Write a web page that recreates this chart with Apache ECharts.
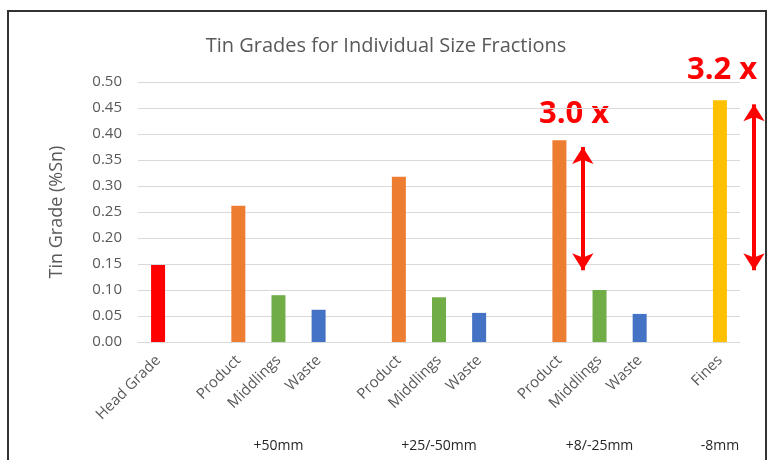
<!DOCTYPE html>
<html>
<head>
<meta charset="utf-8">
<script src="https://cdn.jsdelivr.net/npm/echarts@6/dist/echarts.min.js"></script>
<style>
    html, body { margin: 0; padding: 0; background: #fff; }
    #frame {
        position: absolute; left: 7px; top: 10px; width: 760px; height: 460px;
        border: 2px solid #333; border-bottom: none; box-sizing: border-box;
    }
    #chart { position: absolute; left: 0; top: 0; width: 772px; height: 460px; }
</style>
</head>
<body>
<div id="frame"></div>
<div id="chart"></div>
<script>
/* categories (blank slots are the gaps between size fractions) */
var categories = ['Head Grade', '', 'Product', 'Middlings', 'Waste', '',
    'Product', 'Middlings', 'Waste', '', 'Product', 'Middlings', 'Waste', '', 'Fines'];
var groupLabels = ['', '', '', '+50mm', '', '', '', '+25/-50mm', '', '', '', '+8/-25mm', '', '', '-8mm'];
var grades = [0.148, null, 0.262, 0.090, 0.062, null,
    0.318, 0.086, 0.056, null, 0.388, 0.100, 0.054, null, 0.465];
var barColors = ['#ff0000', null, '#ed7d31', '#70ad47', '#4472c4', null,
    '#ed7d31', '#70ad47', '#4472c4', null, '#ed7d31', '#70ad47', '#4472c4', null, '#ffc000'];
var yTicks = { min: 0, max: 0.5, interval: 0.05 };
// arrows: [slot position, from grade, to grade]
var arrows = [[10.62, 0.138, 0.375], [14.9, 0.138, 0.457]];

var font = '"Open Sans", Lato, sans-serif';

function gradeChart(domId) {
    var chartInstance = echarts.init(document.getElementById(domId));

    var barData = grades.map(function (v, i) {
        return { value: v, itemStyle: { color: barColors[i] } };
    });

    var arrowLines = arrows.map(function (a) {
        return [{ coord: [a[0], a[1]] }, { coord: [a[0], a[2]] }];
    });

    var option = {
        backgroundColor: 'transparent',
        animation: false,
        title: {
            text: 'Tin Grades for Individual Size Fractions',
            left: 'center',
            top: 31,
            textStyle: { color: '#595959', fontSize: 20, fontWeight: 'normal', fontFamily: font }
        },
        grid: [
            { left: 138, right: 32, top: 82, bottom: 118 },
            // same band, reaching the right edge, for the arrow past the last bar
            { left: 138, right: 0, top: 82, bottom: 118 }
        ],
        xAxis: [
            {
                type: 'category',
                data: categories,
                axisLine: { lineStyle: { color: '#d9d9d9' } },
                axisTick: { show: false },
                axisLabel: {
                    interval: 0, rotate: 45, color: '#595959', fontSize: 15,
                    fontFamily: font, margin: 16
                }
            },
            {
                type: 'category',
                data: groupLabels,
                position: 'bottom',
                offset: 89,
                axisLine: { show: false },
                axisTick: { show: false },
                axisLabel: { interval: 0, color: '#262626', fontSize: 14, fontFamily: font }
            },
            {
                // hidden slot scale (40px per slot) for the annotation arrows
                type: 'value',
                gridIndex: 1,
                min: -0.5,
                max: 15.35,
                show: false
            }
        ],
        yAxis: [
            {
                type: 'value',
                min: yTicks.min,
                max: yTicks.max,
                interval: yTicks.interval,
                name: 'Tin Grade (%Sn)',
                nameLocation: 'middle',
                nameGap: 72,
                nameTextStyle: { color: '#595959', fontSize: 18, fontFamily: font },
                axisLabel: {
                    color: '#595959', fontSize: 15, fontFamily: font, margin: 16,
                    formatter: function (v) { return v.toFixed(2); }
                },
                axisLine: { show: false },
                axisTick: { show: false },
                splitLine: { lineStyle: { color: '#d9d9d9', width: 1 } }
            },
            {
                type: 'value',
                gridIndex: 1,
                min: yTicks.min,
                max: yTicks.max,
                show: false
            }
        ],
        series: [
            {
                type: 'bar',
                data: barData,
                barWidth: 14,
                xAxisIndex: 0,
                yAxisIndex: 0
            },
            {
                type: 'line',
                xAxisIndex: 2,
                yAxisIndex: 1,
                data: [],
                symbol: 'none',
                markLine: {
                    silent: true,
                    symbol: ['arrow', 'arrow'],
                    symbolSize: [16, 17],
                    label: { show: false },
                    lineStyle: { color: '#ff0000', width: 4, type: 'solid' },
                    data: arrowLines
                }
            }
        ],
        graphic: [
            {
                type: 'text', left: 539, top: 99,
                style: { text: '3.0 x', fill: '#ff0000', font: 'bold 31px ' + font }
            },
            {
                type: 'text', left: 687, top: 55,
                style: { text: '3.2 x', fill: '#ff0000', font: 'bold 31px ' + font }
            }
        ]
    };
    chartInstance.setOption(option);
    return chartInstance;
}

gradeChart('chart');
</script>
</body>
</html>
